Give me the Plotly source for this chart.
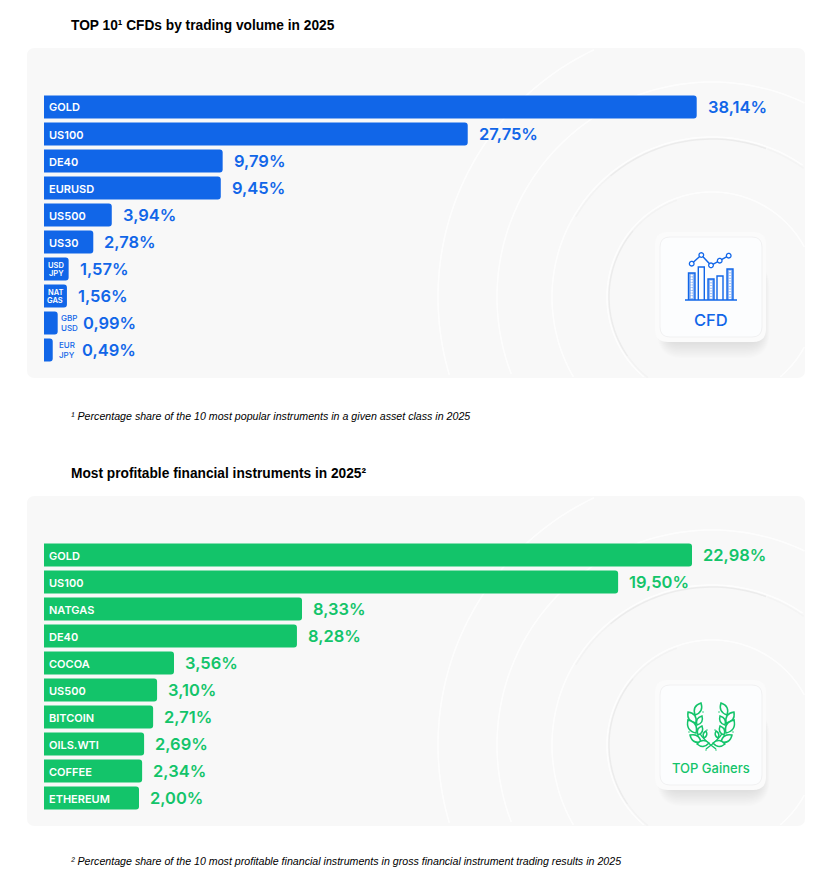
import numpy as np
import plotly.graph_objects as go

W, H = 815, 887
BLUE = '#1166e8'
GREEN = '#13c46a'
PANEL = '#f8f8f8'

# labels printed on the picture
cfd_names = ['GOLD', 'US100', 'DE40', 'EURUSD', 'US500', 'US30', 'USD JPY', 'NAT GAS', 'GBP USD', 'EUR JPY']
cfd_labels = ['38,14%', '27,75%', '9,79%', '9,45%', '3,94%', '2,78%', '1,57%', '1,56%', '0,99%', '0,49%']
# the drawn bars are not to scale with their printed labels, so lengths are read off the bars
cfd_lengths = [38.14, 24.76, 10.44, 10.33, 3.96, 2.88, 1.44, 1.34, 0.80, 0.51]

gainer_names = ['GOLD', 'US100', 'NATGAS', 'DE40', 'COCOA', 'US500', 'BITCOIN', 'OILS.WTI', 'COFFEE', 'ETHEREUM']
gainer_labels = ['22,98%', '19,50%', '8,33%', '8,28%', '3,56%', '3,10%', '2,71%', '2,69%', '2,34%', '2,00%']
gainer_lengths = [22.98, 20.36, 9.15, 8.97, 4.61, 4.01, 3.87, 3.55, 3.48, 3.37]

px = lambda x: x / W
py = lambda y: 1 - y / H


def rrect(x0, y0, x1, y1, r):
    # rounded rectangle path, paper coords
    X0, X1, Y0, Y1 = px(x0), px(x1), py(y0), py(y1)
    rx, ry = r / W, r / H
    return (f'M{X0+rx},{Y0} L{X1-rx},{Y0} Q{X1},{Y0} {X1},{Y0-ry} L{X1},{Y1+ry} Q{X1},{Y1} {X1-rx},{Y1} '
            f'L{X0+rx},{Y1} Q{X0},{Y1} {X0},{Y1+ry} L{X0},{Y0-ry} Q{X0},{Y0} {X0+rx},{Y0} Z')


def add_path(fig, path, fill=None, line=None, width=0, opacity=1, layer='above'):
    fig.add_shape(type='path', path=path, xref='paper', yref='paper', layer=layer, opacity=opacity,
                  fillcolor=fill if fill else 'rgba(0,0,0,0)',
                  line=dict(color=line if line else 'rgba(0,0,0,0)', width=width))


def circle_path(cx, cy, r):
    a = np.linspace(0, 2 * np.pi, 25)[:-1]
    pts = [f'{px(cx + r*np.cos(t))},{py(cy + r*np.sin(t))}' for t in a]
    return 'M' + ' L'.join(pts) + ' Z'


def arc_segments(cx, cy, r, top, bottom, a0=0, a1=360, right=805, left=27):
    # arc split into pieces that stay inside the panel
    segs, cur = [], []
    for t in np.radians(np.arange(a0, a1 + 1, 1.5)):
        x, y = cx + r * np.cos(t), cy - r * np.sin(t)
        if left < x < right and top < y < bottom:
            cur.append(f'{px(x)},{py(y)}')
        else:
            if len(cur) > 1:
                segs.append('M' + ' L'.join(cur))
            cur = []
    if len(cur) > 1:
        segs.append('M' + ' L'.join(cur))
    return segs


def add_panel(fig, top):
    bottom = top + 330
    add_path(fig, rrect(27, top, 805, bottom, 8), fill=PANEL, layer='below')
    cx, cy = 712, top + 249
    for r in (273, 214, 159, 104):
        for s in arc_segments(cx, cy, r + 1, top, bottom):
            add_path(fig, s, line='#ffffff', width=1.6, opacity=0.8, layer='below')
    # soft grey edge, upper part of the second ring and left part of the inner one
    for r, parts in [(158, [(50, 70, '#f4f4f4'), (70, 130, '#ececec'), (130, 150, '#f3f3f3')]),
                     (103, [(110, 140, '#f3f3f3'), (140, 215, '#ececec'), (215, 250, '#f3f3f3')])]:
        for a0, a1, c in parts:
            for s in arc_segments(cx, cy, r, top, bottom, a0, a1):
                add_path(fig, s, line=c, width=1.5, layer='below')


def add_card(fig, top):
    x0, x1, y0, y1 = 655, 766, top + 184, top + 294
    for i in range(12):
        add_path(fig, rrect(x0 + 10 - i * 0.7, y0 + 30, x1 - 4 + i * 0.7, y1 + 2 + i * 1.3, 14 + i), fill='#000000', opacity=0.007, layer='below')
    add_path(fig, rrect(x0, y0, x1, y1, 13), fill='#fbfbfb')
    add_path(fig, rrect(x0 + 5, y0 + 5, x1 - 4, y1 - 5, 10), fill='#fcfdfe', line='#f1f1f2', width=1)


def add_cfd_icon(fig, top):
    o = top - 48
    base = 300 + o
    for x0, x1, ytop, dotted in [(688.5, 695, 273, True), (698.3, 704.3, 267, False), (708, 714, 279, True),
                                 (717, 723, 276, False), (727, 733, 269, True)]:
        t = ytop + o
        add_path(fig, f'M{px(x0)},{py(base)} L{px(x0)},{py(t)} L{px(x1)},{py(t)} L{px(x1)},{py(base)}',
                 fill='#8fb6f4' if dotted else None, line=BLUE, width=1.4)
        if dotted:
            for y in np.arange(t + 2.5, base - 1, 2.7):
                add_path(fig, circle_path((x0 + x1) / 2, y, 1.1), fill='#ffffff')
    add_path(fig, f'M{px(685)},{py(base)} L{px(737)},{py(base)}', line=BLUE, width=1.4)
    nodes = [(691.7, 263.7), (701.3, 255), (711, 265.3), (719.7, 260.7), (728.7, 255.7)]
    line = 'M' + ' L'.join(f'{px(x)},{py(y + o)}' for x, y in nodes)
    add_path(fig, line, line=BLUE, width=1.4)
    for x, y in nodes:
        add_path(fig, circle_path(x, y + o, 2.3), fill='#ffffff', line=BLUE, width=1.3)


def add_leaf(fig, bx, by, tx, ty, o, mirror):
    # leaf outline between base and tip, bulging to both sides
    if mirror:
        bx, tx = 2 * 711 - bx, 2 * 711 - tx
    dx, dy = tx - bx, ty - by
    nx, ny = -dy * 0.5, dx * 0.5
    mx, my = (bx + tx) / 2, (by + ty) / 2
    p = lambda x, y: f'{px(x)},{py(y + o)}'
    add_path(fig, f'M{p(bx, by)} Q{p(mx + nx, my + ny)} {p(tx, ty)} Q{p(mx - nx, my - ny)} {p(bx, by)} Z',
             fill='#fcfdfe', line=GREEN, width=1.5)


def add_laurel(fig, top):
    o = top - 496
    p = lambda x, y: f'{px(x)},{py(y + o)}'
    leaves = [(695, 715, 701, 703), (696, 723, 688, 712), (697, 725, 702, 716), (696, 733, 688, 720),
              (698, 735, 702, 726), (701, 742, 690, 735), (704, 738, 706, 731), (709, 743, 697, 744)]
    dots = [(703, 712), (688, 720), (689, 732), (707, 730), (706, 750)]
    for mirror in (False, True):
        xf = (lambda x: 2 * 711 - x) if mirror else (lambda x: x)
        add_path(fig, f'M{p(xf(716), 749)} Q{p(xf(692), 732)} {p(xf(695), 715)}', line=GREEN, width=1.5)
        for bx, by, tx, ty in leaves:
            add_leaf(fig, bx, by, tx, ty, o, mirror)
        for x, y in dots:
            add_path(fig, circle_path(xf(x), y + o, 0.7), fill=GREEN)


fig = go.Figure()
BAR_X0, BAR_X1 = 44, 800


def add_chart(fig, idx, names, labels, lengths, color, top, scale):
    xname, yname = ('x', 'y') if idx == 1 else (f'x{idx}', f'y{idx}')
    fig.add_trace(go.Bar(x=lengths, y=list(range(10)), orientation='h', xaxis=xname, yaxis=yname,
                         marker=dict(color=color, cornerradius=3, line=dict(width=0)),
                         width=0.85, hoverinfo='skip', showlegend=False))
    suffix = '' if idx == 1 else str(idx)
    fig.update_layout({
        'xaxis' + suffix: dict(domain=[px(BAR_X0), px(BAR_X1)], range=[0, (BAR_X1 - BAR_X0) / scale], visible=False, fixedrange=True),
        'yaxis' + suffix: dict(domain=[py(top + 315.5), py(top + 45.5)], range=[9.5, -0.5], visible=False, fixedrange=True),
    })
    for i, (name, label, length) in enumerate(zip(names, labels, lengths)):
        bar_px = length * scale
        shift = 10
        parts = name.split(' ')
        if len(parts) == 1:
            fig.add_annotation(x=0, y=i, xref=xname, yref=yname, text=name, showarrow=False, xanchor='left', xshift=3, yshift=-0.5,
                               font=dict(family='Inter', size=11, color='white', weight=600))
        elif bar_px > 20:
            for part, dy in zip(parts, (4, -4)):
                fig.add_annotation(x=length / 2, y=i, xref=xname, yref=yname, text=part, showarrow=False, xanchor='center', yshift=dy,
                                   font=dict(family='Inter', size=7.5, color='white', weight=600))
        else:
            lab_shift = 11.6 if bar_px > 10 else 14
            shift = 24.5 if bar_px > 10 else 28
            for part, dy in zip(parts, (4.6, -4.6)):
                fig.add_annotation(x=length, y=i, xref=xname, yref=yname, text=part, showarrow=False, xanchor='center', xshift=lab_shift, yshift=dy,
                                   font=dict(family='Inter', size=8, color=color, weight=500))
        fig.add_annotation(x=length, y=i, xref=xname, yref=yname, text=label, showarrow=False, xanchor='left', xshift=shift - 1, yshift=-0.4,
                           font=dict(family='Inter', size=16.5, color=color, weight=600))


def add_text(fig, x, y, text, size, color='black', family='Liberation Sans', weight=None, anchor='left', style=None):
    fig.add_annotation(x=px(x), y=py(y), xref='paper', yref='paper', text=text, showarrow=False, xanchor=anchor, yanchor='middle',
                       font=dict(family=family, size=size, color=color, weight=weight, style=style))


add_panel(fig, 48)
add_panel(fig, 496)
add_card(fig, 48)
add_card(fig, 496)
add_cfd_icon(fig, 48)
add_laurel(fig, 496)

add_chart(fig, 1, cfd_names, cfd_labels, cfd_lengths, BLUE, 48, 652.7 / 38.14)
add_chart(fig, 2, gainer_names, gainer_labels, gainer_lengths, GREEN, 496, 648 / 22.98)

add_text(fig, 69, 25, 'TOP 10¹ CFDs by trading volume in 2025', 13.72, weight=700)
add_text(fig, 69, 473, 'Most profitable financial instruments in 2025²', 13.72, weight=700)
add_text(fig, 69, 415.5, '¹ Percentage share of the 10 most popular instruments in a given asset class in 2025', 10.65, style='italic')
add_text(fig, 69, 860.5, '² Percentage share of the 10 most profitable financial instruments in gross financial instrument trading results in 2025', 10.65, style='italic')
add_text(fig, 711, 320, 'CFD', 16.5, color=BLUE, family='Inter', weight=500, anchor='center')
add_text(fig, 711, 768, 'TOP Gainers', 13, color=GREEN, family='Inter', weight=500, anchor='center')

fig.update_layout(width=W, height=H, autosize=False, margin=dict(l=0, r=0, t=0, b=0), paper_bgcolor='white',
                  plot_bgcolor='rgba(0,0,0,0)', bargap=0.15)
fig.write_html('out.html', config={'displayModeBar': False},
               post_script="document.body.style.margin='0';document.body.style.overflow='hidden';")
